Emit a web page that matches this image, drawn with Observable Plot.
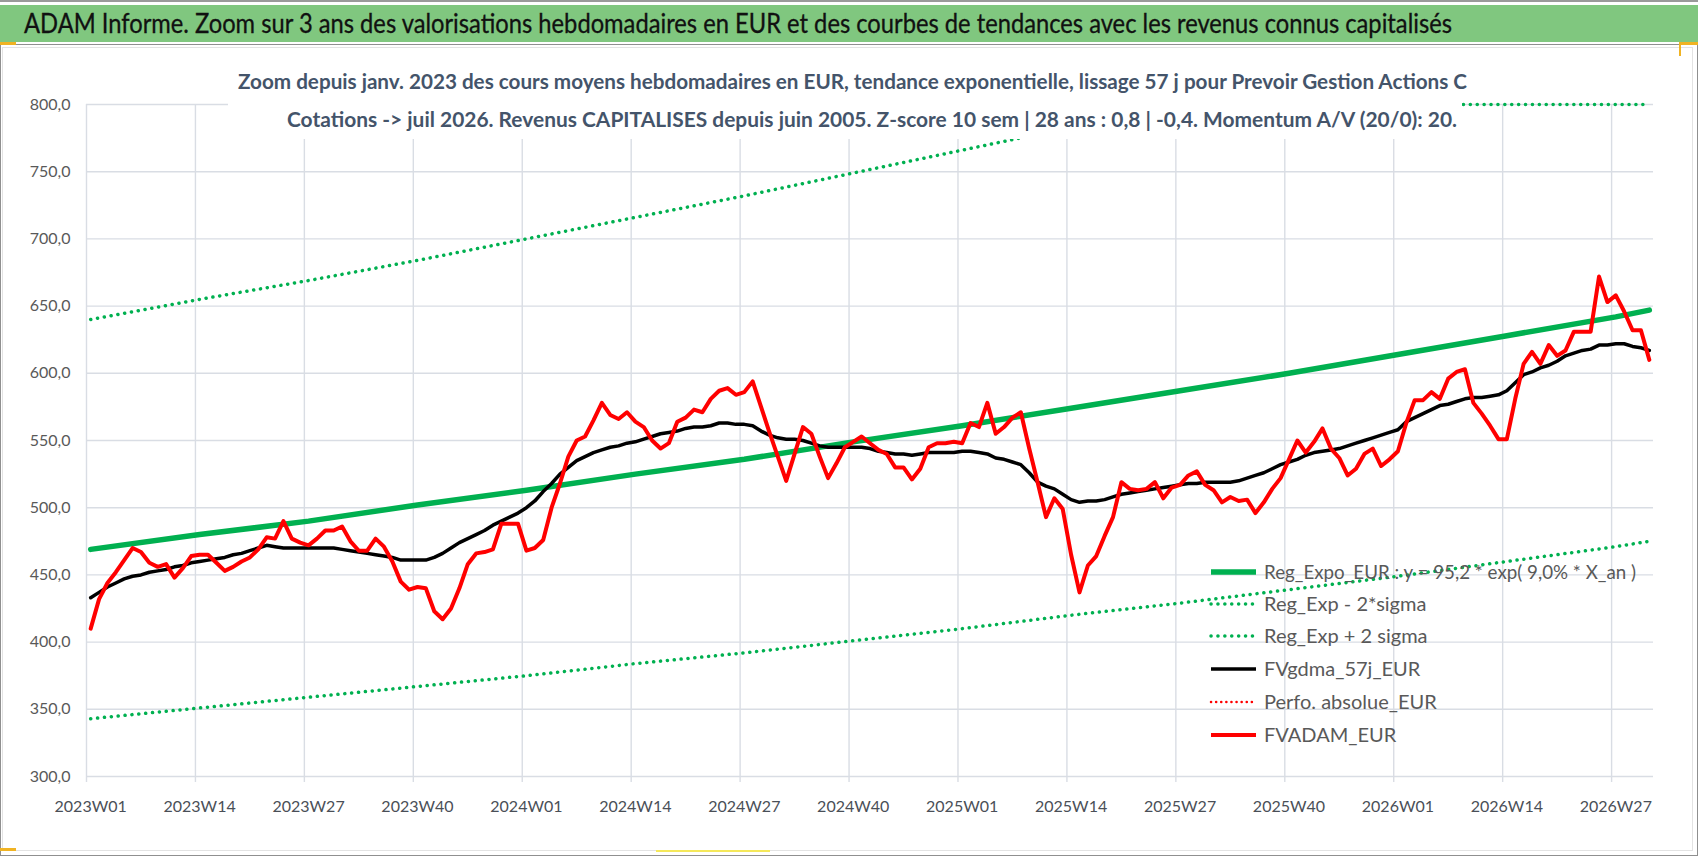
<!DOCTYPE html>
<html><head><meta charset="utf-8">
<script src="https://cdn.jsdelivr.net/npm/d3@7"></script>
<script src="https://cdn.jsdelivr.net/npm/@observablehq/plot@0.6"></script>
<style>
body{margin:0;background:#fff;}
#wrap{position:relative;width:1698px;height:856px;overflow:hidden;background:#fff;}
#wrap svg{position:absolute;left:0;top:0;}
</style></head><body><div id="wrap"></div>
<script>
const weeks = [
"2023W01","2023W02","2023W03","2023W04","2023W05","2023W06","2023W07","2023W08","2023W09","2023W10","2023W11","2023W12","2023W13",
"2023W14","2023W15","2023W16","2023W17","2023W18","2023W19","2023W20","2023W21","2023W22","2023W23","2023W24","2023W25","2023W26",
"2023W27","2023W28","2023W29","2023W30","2023W31","2023W32","2023W33","2023W34","2023W35","2023W36","2023W37","2023W38","2023W39",
"2023W40","2023W41","2023W42","2023W43","2023W44","2023W45","2023W46","2023W47","2023W48","2023W49","2023W50","2023W51","2023W52",
"2024W01","2024W02","2024W03","2024W04","2024W05","2024W06","2024W07","2024W08","2024W09","2024W10","2024W11","2024W12","2024W13",
"2024W14","2024W15","2024W16","2024W17","2024W18","2024W19","2024W20","2024W21","2024W22","2024W23","2024W24","2024W25","2024W26",
"2024W27","2024W28","2024W29","2024W30","2024W31","2024W32","2024W33","2024W34","2024W35","2024W36","2024W37","2024W38","2024W39",
"2024W40","2024W41","2024W42","2024W43","2024W44","2024W45","2024W46","2024W47","2024W48","2024W49","2024W50","2024W51","2024W52",
"2025W01","2025W02","2025W03","2025W04","2025W05","2025W06","2025W07","2025W08","2025W09","2025W10","2025W11","2025W12","2025W13",
"2025W14","2025W15","2025W16","2025W17","2025W18","2025W19","2025W20","2025W21","2025W22","2025W23","2025W24","2025W25","2025W26",
"2025W27","2025W28","2025W29","2025W30","2025W31","2025W32","2025W33","2025W34","2025W35","2025W36","2025W37","2025W38","2025W39",
"2025W40","2025W41","2025W42","2025W43","2025W44","2025W45","2025W46","2025W47","2025W48","2025W49","2025W50","2025W51","2025W52",
"2026W01","2026W02","2026W03","2026W04","2026W05","2026W06","2026W07","2026W08","2026W09","2026W10","2026W11","2026W12","2026W13",
"2026W14","2026W15","2026W16","2026W17","2026W18","2026W19","2026W20","2026W21","2026W22","2026W23","2026W24","2026W25","2026W26",
"2026W27","2026W28","2026W29","2026W30","2026W31"
];
const tickWeeks = ["2023W01","2023W14","2023W27","2023W40","2024W01","2024W14","2024W27","2024W40","2025W01","2025W14","2025W27","2025W40","2026W01","2026W14","2026W27"];
const yTicks = [300,350,400,450,500,550,600,650,700,750,800];

// FVADAM_EUR (red)
const fvadam = [
410,432,444,452,461,470,467,459,456,458,
448,455,464,465,465,459,453,456,460,463,
469,478,477,490,477,474,472,477,483,483,
486,475,468,468,477,471,460,445,439,441,
440,423,417,425,440,458,466,467,469,488,
488,488,468,470,476,500,518,538,550,553,
565,578,569,566,571,564,560,550,544,548,
564,567,573,571,581,587,589,584,586,594,
575,556,538,520,540,560,555,538,522,533,
545,549,553,548,543,540,530,530,521,529,
545,548,548,549,548,563,560,578,555,560,
567,571,544,519,493,507,499,465,437,457,
464,479,493,519,514,513,514,519,507,515,
517,524,527,517,513,504,508,505,506,496,
504,514,522,536,550,541,549,559,544,537,
524,529,540,544,531,536,542,563,580,580,
586,581,596,601,603,578,570,561,551,551,
581,607,616,607,621,613,617,631,631,631,
672,653,658,646,632,632,610
];
// FVgdma_57j_EUR (black)
const fvgdma = [
433,437,441,444,447,449,450,452,453,454,
456,457,459,460,461,462,463,465,466,468,
470,472,471,470,470,470,470,470,470,470,
469,468,467,466,465,464,463,461,461,461,
461,463,466,470,474,477,480,483,487,490,
493,496,500,505,512,518,525,530,535,538,
541,543,545,546,548,549,551,553,555,556,
557,559,560,560,561,563,563,562,562,561,
557,554,552,551,551,550,548,546,545,545,
545,545,545,544,542,541,540,540,539,540,
541,541,541,541,542,542,541,540,537,536,
534,532,526,519,516,514,510,506,504,505,
505,506,508,510,511,512,513,514,515,516,
517,518,518,519,519,519,519,520,522,524,
526,529,532,534,536,539,541,542,543,544,
546,548,550,552,554,556,558,564,567,570,
573,576,577,579,581,582,582,583,584,587,
593,599,601,604,606,609,613,615,617,618,
621,621,622,622,620,619,617
];
// Trend curves read at the tick weeks and at the last week
const trendWeeks = ["2023W01","2023W14","2023W27","2023W40","2024W01","2024W14","2024W27","2024W40","2025W01","2025W14","2025W27","2025W40","2026W01","2026W14","2026W27","2026W31"];
const regExpo  = [469,480,490,502,513,525,536,549,561,574,587,600,614,628,642,647];
const regMinus = [343,351,359,367,375,384,392,401,410,420,429,439,449,460,471,475];
const regPlus  = [640,655,669,684,700,716,732,749,766,783,800,800,800,800,800,800];

const title = "ADAM Informe. Zoom sur 3 ans des valorisations hebdomadaires en EUR et des courbes de tendances avec les revenus connus capitalisés";
const sub1 = "Zoom depuis janv. 2023 des cours moyens hebdomadaires en EUR, tendance exponentielle, lissage 57 j pour Prevoir Gestion Actions C";
const sub2 = "Cotations -> juil 2026. Revenus CAPITALISES depuis juin 2005. Z-score 10 sem | 28 ans : 0,8 | -0,4. Momentum A/V (20/0): 20.";
const legendItems = [
  {label: "Reg_Expo_EUR : y = 95,2 * exp( 9,0% *  X_an )", color: "#00b050", width: 5.5, dash: null},
  {label: "Reg_Exp - 2*sigma", color: "#00b050", width: 3.5, dash: "0.1 6.8"},
  {label: "Reg_Exp + 2 sigma", color: "#00b050", width: 3.5, dash: "0.1 6.8"},
  {label: "FVgdma_57j_EUR", color: "#000000", width: 3.5, dash: null},
  {label: "Perfo. absolue_EUR", color: "#ff0000", width: 2.5, dash: "0.1 5"},
  {label: "FVADAM_EUR", color: "#ff0000", width: 3.8, dash: null}
];

const FONT = "Lato,'Open Sans','Liberation Sans',sans-serif";
const W = 1698, H = 856, ML = 86, MR = 45, MT = 104, MB = 80;
const step = (W - ML - MR) / weeks.length;
const GRID = "#d9dde4";

const rows = weeks.map((w, i) => ({w, adam: fvadam[i], gdma: fvgdma[i]}));
const trend = trendWeeks.map((w, i) => ({w, e: regExpo[i], lo: regMinus[i], hi: regPlus[i]}));
const fmt = d => d3.format(".1f")(d).replace(".", ",");

const chart = Plot.plot({
  width: W, height: H, marginLeft: ML, marginRight: MR, marginTop: MT, marginBottom: MB,
  style: {fontFamily: FONT, fontSize: "16px", background: "transparent", overflow: "visible"},
  x: {type: "point", domain: weeks, padding: 0.5, axis: null, label: null},
  y: {domain: [300, 800], clamp: true, axis: null, label: null},
  marks: [
    Plot.ruleY(yTicks, {y: d => d, stroke: GRID, strokeWidth: 1.4}),
    Plot.ruleX(tickWeeks, {x: d => d, dx: -step / 2, stroke: GRID, strokeWidth: 1.4, insetBottom: -6}),
    Plot.axisY(yTicks, {tickSize: 0, tickPadding: 16, tickFormat: fmt, fill: "#595959", fontSize: 16, label: null}),
    Plot.axisX(tickWeeks, {tickSize: 0, tickPadding: 24, fill: "#4a4f57", fontSize: 16, label: null}),
    Plot.line(trend, {x: "w", y: "lo", stroke: "#00b050", strokeWidth: 3.5, strokeDasharray: "0.1 6.8", strokeLinecap: "round"}),
    Plot.line(trend, {x: "w", y: "hi", stroke: "#00b050", strokeWidth: 3.5, strokeDasharray: "0.1 6.8", strokeLinecap: "round"}),
    Plot.line(trend, {x: "w", y: "e", stroke: "#00b050", strokeWidth: 5.5}),
    Plot.line(rows, {x: "w", y: "gdma", stroke: "#000000", strokeWidth: 3.5}),
    Plot.line(rows, {x: "w", y: "adam", stroke: "#ff0000", strokeWidth: 4})
  ]
});
const wrap = document.getElementById("wrap");
wrap.appendChild(chart);

// Overlay: frame, title bar, subtitle box, legend
const ov = d3.create("svg").attr("width", W).attr("height", H).style("font-family", FONT);
ov.append("rect").attr("x", 2.5).attr("y", 47.5).attr("width", W - 8).attr("height", H - 53).attr("fill", "none").attr("stroke", "#e3e3e3");
ov.append("rect").attr("x", 0.5).attr("y", 44.5).attr("width", W - 1).attr("height", H - 45).attr("fill", "none").attr("stroke", "#8f8f8f");
ov.append("rect").attr("x", 0).attr("y", 0).attr("width", W).attr("height", 2).attr("fill", "#9a9a9a");
ov.append("rect").attr("x", 0).attr("y", 5).attr("width", W).attr("height", 37).attr("fill", "#80c77f");
ov.append("text").attr("x", 24).attr("y", 33).attr("font-size", 26).attr("fill", "#111111")
  .attr("stroke", "#111111").attr("stroke-width", 0.3)
  .attr("textLength", 1428).attr("lengthAdjust", "spacingAndGlyphs").text(title);
// selection marks
ov.append("rect").attr("x", 0).attr("y", 42).attr("width", 16).attr("height", 3).attr("fill", "#f0b323");
ov.append("rect").attr("x", 1679).attr("y", 42).attr("width", 19).attr("height", 3).attr("fill", "#f0b323");
ov.append("rect").attr("x", 1679).attr("y", 42).attr("width", 2).attr("height", 14).attr("fill", "#f0b323");
ov.append("rect").attr("x", 0).attr("y", 848).attr("width", 16).attr("height", 3).attr("fill", "#f0b323");
ov.append("rect").attr("x", 656).attr("y", 850).attr("width", 114).attr("height", 2).attr("fill", "#f5e85a");
// subtitle box
ov.append("rect").attr("x", 228).attr("y", 52).attr("width", 1234).attr("height", 87).attr("fill", "#ffffff");
ov.append("text").attr("x", 238).attr("y", 89).attr("font-size", 21).attr("font-weight", "bold").attr("fill", "#44546a")
  .attr("textLength", 1229).attr("lengthAdjust", "spacingAndGlyphs").text(sub1);
ov.append("text").attr("x", 287).attr("y", 127).attr("font-size", 21).attr("font-weight", "bold").attr("fill", "#44546a")
  .attr("textLength", 1170).attr("lengthAdjust", "spacingAndGlyphs").text(sub2);
// legend
const rowY = [572, 604, 636, 669, 702, 735];
legendItems.forEach((it, i) => {
  const g = ov.append("g").attr("transform", `translate(0,${rowY[i]})`);
  const ln = g.append("line").attr("x1", 1211).attr("x2", 1256).attr("y1", 0).attr("y2", 0)
    .attr("stroke", it.color).attr("stroke-width", it.width);
  if (it.dash) ln.attr("stroke-dasharray", it.dash).attr("stroke-linecap", "round");
  const t = g.append("text").attr("x", 1264).attr("y", 7).attr("font-size", 20).attr("fill", "#595959").text(it.label);
  if (i === 0) t.attr("textLength", 372).attr("lengthAdjust", "spacingAndGlyphs");
});
wrap.appendChild(ov.node());
</script>
</body></html>
